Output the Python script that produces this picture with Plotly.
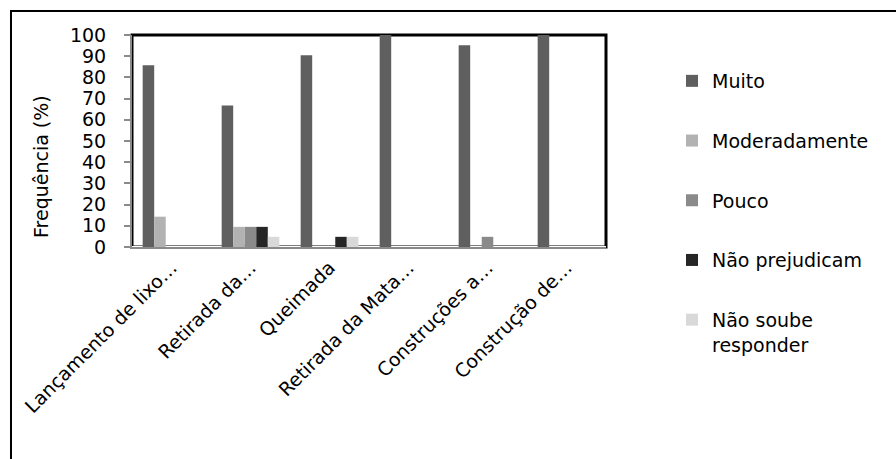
import plotly.graph_objects as go

# Percentual de respostas por atividade
categorias = [
    "Lançamento de lixo…",
    "Retirada da…",
    "Queimada",
    "Retirada da Mata…",
    "Construções a…",
    "Construção de…",
]
series = ["Muito", "Moderadamente", "Pouco", "Não prejudicam", "Não soube<br>responder"]
muito = [85.7, 66.7, 90.5, 100.0, 95.2, 100.0]
moderadamente = [14.3, 9.5, 0.0, 0.0, 0.0, 0.0]
pouco = [0.0, 9.5, 0.0, 0.0, 4.8, 0.0]
nao_prejudicam = [0.0, 9.5, 4.8, 0.0, 0.0, 0.0]
nao_soube = [0.0, 4.8, 4.8, 0.0, 0.0, 0.0]
valores = [muito, moderadamente, pouco, nao_prejudicam, nao_soube]
cores = ["#5f5f5f", "#b2b2b2", "#8a8a8a", "#262626", "#d9d9d9"]

FONT = "DejaVu Sans"
FS = 19
W, H = 896, 459
L, R, T, B = 132, 290, 35, 212
pw, ph = W - L - R, H - T - B


def px_x(px):
    return (px - L) / pw


def px_y(py):
    return (H - B - py) / ph


fig = go.Figure()
for i, (nome, vals, cor) in enumerate(zip(series, valores, cores)):
    fig.add_trace(go.Bar(
        x=categorias, y=vals, name=nome,
        marker=dict(color=cor, line=dict(width=0)),
        legendgroup=f"g{i}",
    ))

fig.update_layout(
    width=W, height=H,
    margin=dict(l=L, r=R, t=T, b=B),
    paper_bgcolor="white", plot_bgcolor="white",
    font=dict(family=FONT, size=FS, color="#000000"),
    barmode="group", bargap=0.27, bargroupgap=0,
    showlegend=True,
    legend=dict(
        x=672 / W, xref="container", y=1 - 62 / H, yref="container",
        xanchor="left", yanchor="top",
        font=dict(family=FONT, size=FS, color="#000000"),
        tracegroupgap=32, valign="top", itemwidth=30,
        maxheight=440,
        bgcolor="rgba(0,0,0,0)",
    ),
    xaxis=dict(
        showline=True, linecolor="#8a8a8a", linewidth=2,
        ticks="", tickangle=-45, showgrid=False,
        tickfont=dict(family=FONT, size=FS),
    ),
    yaxis=dict(
        range=[0, 100], dtick=10, showgrid=False,
        showline=True, linecolor="#8a8a8a", linewidth=2,
        ticks="outside", ticklen=6, tickcolor="#8a8a8a", tickwidth=2,
        ticklabelstandoff=14,
        tickfont=dict(family=FONT, size=FS),
    ),
    annotations=[dict(
        text="Frequência (%)", textangle=-90, showarrow=False,
        xref="paper", yref="paper", x=px_x(41), y=px_y(167),
        xanchor="center", yanchor="middle",
        font=dict(family=FONT, size=FS, color="#000000"),
    )],
    shapes=[
        # moldura da área de plotagem
        dict(type="rect", xref="paper", yref="paper", x0=0, x1=1, y0=0, y1=1,
             line=dict(color="#000000", width=3), layer="below"),
        # moldura externa do gráfico
        dict(type="rect", xref="paper", yref="paper",
             x0=px_x(11), x1=px_x(910), y0=px_y(470), y1=px_y(11),
             line=dict(color="#000000", width=2), layer="below"),
    ],
)

fig.write_html("out.html")
